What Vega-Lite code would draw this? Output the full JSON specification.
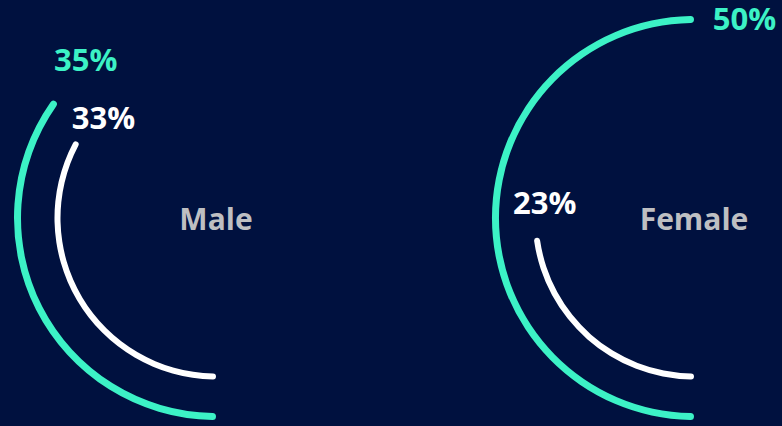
{
  "$schema": "https://vega.github.io/schema/vega-lite/v6.json",
  "width": 782,
  "height": 416,
  "autosize": "none",
  "padding": {"top": 10, "left": 0, "right": 0, "bottom": 0},
  "background": "#00113f",
  "config": {"view": {"stroke": null}, "text": {"font": "Open Sans", "fontWeight": "bold", "fontSize": 30}},
  "data": {
    "values": [
      {"gender": "Male", "ring": "outer", "value": 0.35},
      {"gender": "Male", "ring": "inner", "value": 0.33},
      {"gender": "Female", "ring": "outer", "value": 0.50},
      {"gender": "Female", "ring": "inner", "value": 0.23}
    ]
  },
  "encoding": {
    "x": {"field": "gender", "type": "nominal", "sort": ["Male", "Female"], "scale": {"type": "point", "padding": 0.318, "align": 0.7105}, "axis": null}
  },
  "layer": [
    {
      "transform": [{"filter": "datum.ring === 'outer'"}],
      "mark": {"type": "arc", "radius": 202, "radius2": 195, "cornerRadius": 3.5},
      "encoding": {
        "theta": {"field": "value", "type": "quantitative", "stack": null, "scale": {"domain": [0, 1], "range": [3.14159265, 9.42477796]}},
        "theta2": {"datum": 0},
        "color": {"field": "ring", "type": "nominal", "scale": {"domain": ["outer", "inner"], "range": ["#3cf2c6", "#ffffff"]}, "legend": null}
      }
    },
    {
      "transform": [{"filter": "datum.ring === 'inner'"}],
      "mark": {"type": "arc", "radius": 161.5, "radius2": 155.5, "cornerRadius": 3},
      "encoding": {
        "theta": {"field": "value", "type": "quantitative", "stack": null},
        "theta2": {"datum": 0},
        "color": {"field": "ring", "type": "nominal", "legend": null}
      }
    },
    {
      "transform": [{"filter": "datum.ring === 'outer'"}],
      "mark": {"type": "text", "radius": 204, "thetaOffset": 0.25, "align": "center", "baseline": "middle", "fontSize": 31, "dy": 1},
      "encoding": {
        "theta": {"field": "value", "type": "quantitative", "stack": null},
        "text": {"field": "value", "type": "quantitative", "format": ".0%"},
        "color": {"field": "ring", "type": "nominal", "legend": null}
      }
    },
    {
      "transform": [{"filter": "datum.ring === 'inner'"}],
      "mark": {"type": "text", "radius": 150, "thetaOffset": 0.22, "align": "center", "baseline": "middle", "fontSize": 31, "dy": 1},
      "encoding": {
        "theta": {"field": "value", "type": "quantitative", "stack": null},
        "text": {"field": "value", "type": "quantitative", "format": ".0%"},
        "color": {"field": "ring", "type": "nominal", "legend": null}
      }
    },
    {
      "transform": [{"filter": "datum.ring === 'outer'"}],
      "mark": {"type": "text", "align": "center", "baseline": "middle", "dy": 3, "color": "#bebfc2"},
      "encoding": {
        "text": {"field": "gender", "type": "nominal"}
      }
    }
  ]
}
